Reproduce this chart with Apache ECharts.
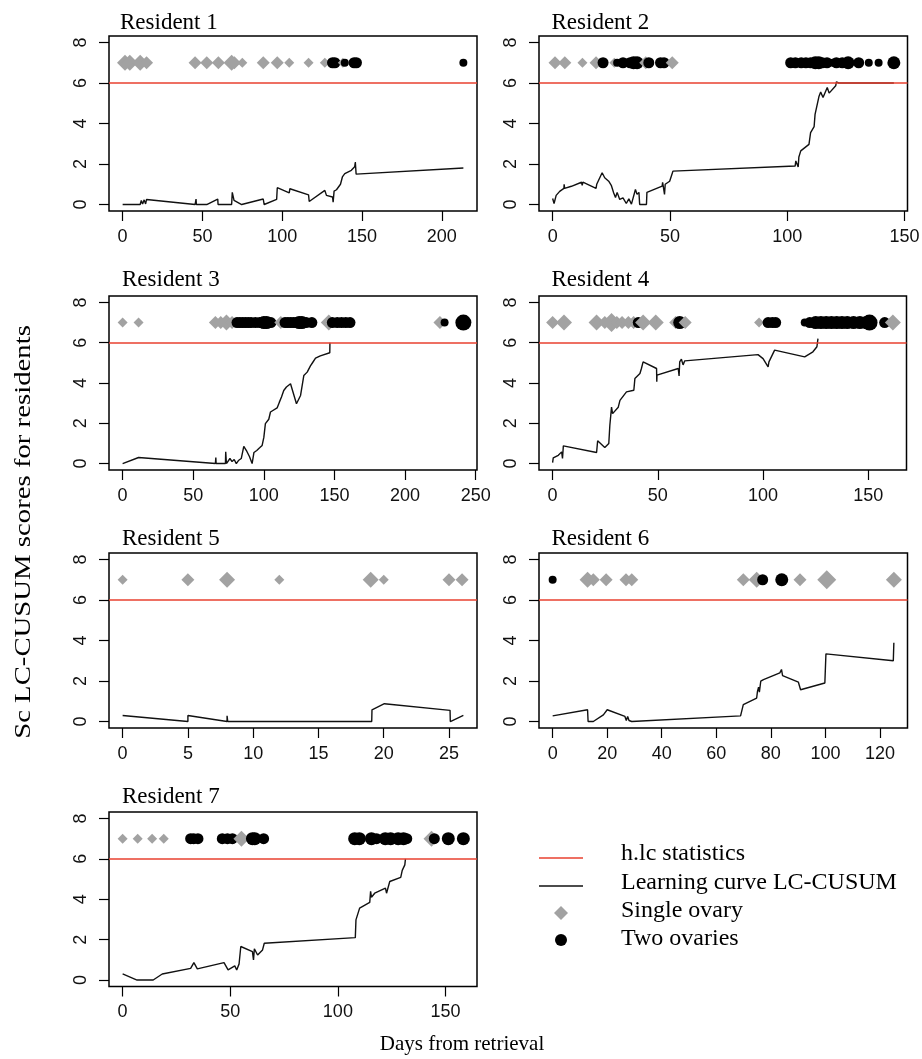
<!DOCTYPE html>
<html><head><meta charset="utf-8">
<script src="https://cdn.jsdelivr.net/npm/echarts@6/dist/echarts.min.js"></script>
<style>html,body{margin:0;padding:0;background:#fff}#c{width:922px;height:1059px}</style>
</head><body><div id="c"></div><script>
// ---------------- DATA ----------------
const residentNames = ['Resident 1','Resident 2','Resident 3','Resident 4','Resident 5','Resident 6','Resident 7'];
const H_LC = 6;          // h.lc threshold
const MARK_Y = 7;        // level where the case markers are drawn
const yTicks = [0, 2, 4, 6, 8];

// x tick labels per resident
const r1XTicks = [0, 50, 100, 150, 200];
const r2XTicks = [0, 50, 100, 150];
const r3XTicks = [0, 50, 100, 150, 200, 250];
const r4XTicks = [0, 50, 100, 150];
const r5XTicks = [0, 5, 10, 15, 20, 25];
const r6XTicks = [0, 20, 40, 60, 80, 100, 120];
const r7XTicks = [0, 50, 100, 150];

// LC-CUSUM curves [day, score]
const r1Curve = [[0,0],[11,0],[11.7,0.2],[12.5,0.02],[13.5,0.23],[14.4,0.03],[15,0.25],[45.4,0],[46,0.27],[46.2,0],[52.7,0],[59.6,0.27],[59.8,0],[68.3,0],[68.7,0.6],[69.8,0.2],[74.6,0],[88.1,0.27],[88.7,0],[96.5,0.25],[96.9,0.83],[104.4,0.58],[104.8,0.78],[116.5,0.48],[116.9,0.15],[126.7,0.7],[127.7,0.45],[131.5,0.37],[131.9,0.12],[132.5,0.66],[134,0.73],[136.5,1.0],[137.7,1.36],[139.2,1.53],[143.3,1.69],[145.4,1.86],[145.8,2.1],[146.3,1.5],[213.5,1.8]];
const r2Curve = [[0,0.3],[0.6,0.05],[1.5,0.45],[3,0.65],[4.8,0.8],[4.9,1.0],[5.1,0.8],[8,0.9],[12.3,1.1],[12.6,0.95],[12.9,1.1],[18.5,0.8],[18.8,1.0],[21.1,1.57],[22.2,1.32],[23.9,1.15],[25,0.95],[26,0.58],[26.8,0.35],[27.5,0.6],[28.6,0.25],[30,0.33],[31.4,0.05],[32.5,0.28],[33.6,0.02],[35.3,0.74],[36,0.5],[36.8,0.6],[37.1,0],[40,0],[40.2,0.6],[40.6,0.58],[46.7,0.91],[46.9,1.1],[47.7,0.5],[48,1.0],[49.9,1.15],[50.6,1.4],[51.3,1.65],[103.4,1.9],[103.7,2.15],[104.7,1.85],[105,2.35],[105.8,2.65],[109.3,2.97],[110,3.55],[111.5,3.85],[111.9,4.45],[113.6,5.35],[114.3,5.55],[115.3,5.28],[117.1,5.78],[117.9,5.5],[120.7,5.86],[121,6.05],[122,6.0],[145.5,6.0]];
const r3Curve = [[0,0],[11.3,0.3],[65.7,0],[66,0.3],[66.2,0],[72.8,0],[73,0.58],[73.5,0],[76,0.25],[77.5,0.1],[79,0.2],[80.5,0],[82,0.15],[84,0.25],[85.8,0.85],[88,0.6],[89.8,0.35],[91.7,0],[93,0.55],[95,0.65],[97,0.78],[98.8,0.9],[100,1.3],[101.1,1.98],[103.5,2.2],[104.7,2.56],[109.4,2.76],[111,3.05],[112.5,3.3],[114.1,3.63],[116,3.8],[118.9,3.96],[120,3.7],[123.1,2.97],[126,3.38],[128.3,4.37],[130.7,4.54],[133,4.85],[134.7,5.03],[136.6,5.23],[140,5.35],[146.7,5.5],[146.8,6.0]];
const r4Curve = [[0,0.05],[0.3,0.28],[2.7,0.41],[4.3,0.58],[4.7,0.25],[5.1,0.88],[20.9,0.55],[21.4,1.13],[24.8,0.8],[26.7,1.0],[27.2,1.9],[28,2.8],[28.5,2.48],[31.2,2.8],[32,3.14],[35.1,3.56],[38.6,3.64],[39.1,4.22],[41.5,4.47],[42.2,4.72],[43,5.05],[49.4,4.72],[49.5,4.06],[49.6,4.39],[59.7,4.72],[60.1,4.35],[60.4,5.05],[61.2,5.18],[62,4.9],[62.8,5.1],[97.6,5.41],[100,5.21],[102.4,4.8],[102.8,5.05],[105.5,5.63],[119.8,5.3],[123.7,5.55],[125.6,5.8],[126.1,6.2]];
const r5Curve = [[0,0.3],[5,0],[5,0.3],[8,0],[8,0.28],[8.05,0],[19.08,0],[19.1,0.58],[20.05,0.88],[25.08,0.55],[25.1,0],[26.1,0.3]];
const r6Curve = [[0,0.28],[12.8,0.58],[13,0],[14.9,0],[18.6,0.33],[20,0.58],[26.5,0.25],[27,0.05],[27.5,0.25],[28,0.05],[29,0],[68.9,0.28],[69.9,0.83],[74.8,1.16],[75.1,1.49],[75.5,1.7],[75.8,1.45],[76.3,1.99],[77.3,2.07],[83.3,2.4],[83.9,2.57],[84.3,2.27],[90.1,1.94],[90.9,1.57],[99.8,1.9],[100.2,3.34],[124.9,3.0],[125.1,3.89]];
const r7Curve = [[0,0.3],[6.7,0],[14.2,0],[18.4,0.3],[31.6,0.58],[33.1,0.86],[34.7,0.55],[47.1,0.86],[49,0.5],[52.1,0.7],[53,0.5],[54.1,0.8],[54.9,1.66],[60.3,1.41],[60.8,1.0],[61.2,1.55],[62.7,1.24],[65,1.49],[65.8,1.82],[108.1,2.1],[108.4,2.98],[110.1,3.56],[114.8,3.84],[115.2,4.39],[115.6,4.1],[117.1,4.3],[122.1,4.55],[122.6,4.3],[124.1,4.88],[129.2,5.08],[129.9,5.43],[131.1,5.7],[131.4,6.0]];

// cases: [day, number of cases that day]
const r1Single = [[1.5,3],[4.5,3],[11,3],[15,2],[45.4,2],[52.7,2],[60,2],[68.3,3],[70,2],[75,1],[88.1,2],[96.9,2],[104.4,1],[116.5,1],[126.7,1],[138,1]];
const r1Two    = [[131.5,2],[133,2],[139.2,1],[145,2],[146.5,2],[213.5,1]];
const r2Single = [[1,2],[5.2,2],[12.7,1],[18.5,2],[20.3,1],[26.3,1],[39.7,2],[51,2]];
const r2Two    = [[21.5,2],[27.5,1],[30,2],[33,2],[34.5,3],[36,3],[41,2],[46,2],[47.5,2],[101.5,2],[103.5,2],[106,2],[108,2],[110,2],[112,3],[113.5,3],[115,2],[117,2],[119.5,1],[121,2],[123.5,2],[126,3],[130.5,2],[134.8,1],[139,1],[145.5,3]];
const r3Single = [[0,1],[11.3,1],[65.7,2],[69.5,2],[73.5,3],[77.5,2],[112,2],[146,3],[224.7,2]];
const r3Two    = [[81,2],[83,2],[85,2],[87,2],[89,2],[91,2],[94,2],[97,2],[100,3],[102,3],[105,2],[115,2],[117,2],[119,2],[121,2],[123,2],[125,3],[127,3],[130,2],[134,2],[148.5,2],[152,2],[155,2],[158,2],[161,2],[228,1],[241.3,4]];
const r4Single = [[0,2],[5.4,3],[20.9,3],[24.8,2],[28,4],[30.5,2],[33,2],[36,2],[38.5,2],[43,3],[49,3],[58.5,2],[63,2],[98.1,1],[161.7,3]];
const r4Two    = [[40.7,2],[60.4,3],[102.4,2],[104.4,2],[106,2],[119.8,1],[122.2,2],[125,3],[127.5,3],[130,3],[132.5,3],[135,3],[137.5,3],[140,3],[143,3],[146,3],[149,3],[150.6,4],[157.8,2]];
const r5Single = [[0,1],[5,2],[8,3],[12,1],[19,3],[20,1],[25,2],[26,2]];
const r5Two    = [];
const r6Single = [[12.8,3],[14.9,2],[19.6,2],[26.9,2],[29,2],[69.9,2],[74.8,3],[90.7,2],[100.5,4],[125.1,3]];
const r6Two    = [[0,1],[77,2],[84,3]];
const r7Single = [[0,1],[7,1],[13.7,1],[19.1,1],[55.2,3],[143.5,3]];
const r7Two    = [[31.6,2],[33,2],[35,2],[46.3,2],[48.7,2],[51,2],[60.3,3],[61.4,3],[65.5,2],[107.8,3],[110,3],[115.6,3],[118,2],[122,3],[124.5,3],[128,3],[130.5,3],[132,2],[144.8,2],[151.3,3],[158.3,3]];

// ---------------- LAYOUT / STYLE ----------------
const curves = [r1Curve,r2Curve,r3Curve,r4Curve,r5Curve,r6Curve,r7Curve];
const singles = [r1Single,r2Single,r3Single,r4Single,r5Single,r6Single,r7Single];
const twos = [r1Two,r2Two,r3Two,r4Two,r5Two,r6Two,r7Two];
const xTicks = [r1XTicks,r2XTicks,r3XTicks,r4XTicks,r5XTicks,r6XTicks,r7XTicks];

const GRIDS = [
  [109, 36, 368, 175],
  [539, 36, 368.5, 175],
  [109, 296, 368, 174],
  [539, 296, 367.5, 174],
  [109, 553, 368, 175],
  [539, 553, 368.5, 175],
  [109, 812, 368, 174.5]
];
const TITLE_POS = [[120,11],[551.5,11],[122,268],[551.5,268],[122,527],[551.5,527],[122,785]];

const GRAY = '#a2a2a2';
const RED = '#e8402f';
const SERIF = '"Liberation Serif", "Times New Roman", serif';
const SANS = '"Liberation Sans", Arial, sans-serif';
const DIAMOND_SIZE = {1: 10, 2: 13, 3: 16, 4: 19};
const CIRCLE_SIZE = {1: 8, 2: 11, 3: 13, 4: 16};

function rRange(lo, hi) { const d = (hi - lo) * 0.04; return [lo - d, hi + d]; }

const grid = [], xAxis = [], yAxis = [], series = [], title = [];
const yR = rRange(Math.min(...yTicks), Math.max(...yTicks));

for (let i = 0; i < 7; i++) {
  const g = GRIDS[i];
  grid.push({left: g[0], top: g[1], width: g[2], height: g[3], show: true,
    borderColor: '#000', borderWidth: 1.5, backgroundColor: 'transparent',
    containLabel: false, outerBoundsMode: 'none'});
  title.push({text: residentNames[i], left: TITLE_POS[i][0], top: TITLE_POS[i][1], padding: 0,
    textStyle: {fontFamily: SERIF, fontSize: 23, fontWeight: 'normal', color: '#000'}});

  const allX = curves[i].map(p => p[0]).concat(singles[i].map(p => p[0]), twos[i].map(p => p[0]));
  const xR = rRange(Math.min(...allX), Math.max(...allX));

  xAxis.push({type: 'value', gridIndex: i, min: xR[0], max: xR[1], position: 'bottom',
    axisLine: {show: false, onZero: false}, splitLine: {show: false},
    axisTick: {show: true, inside: false, length: 10, customValues: xTicks[i], lineStyle: {color: '#000', width: 1.2}},
    axisLabel: {customValues: xTicks[i], margin: 17, fontSize: 18, fontFamily: SANS, color: '#111'}});
  yAxis.push({type: 'value', gridIndex: i, min: yR[0], max: yR[1], position: 'left',
    axisLine: {show: false, onZero: false}, splitLine: {show: false},
    axisTick: {show: true, inside: false, length: 10, customValues: yTicks, lineStyle: {color: '#000', width: 1.2}},
    axisLabel: {customValues: yTicks, rotate: 90, margin: 19, fontSize: 18, fontFamily: SANS, color: '#111'}});

  // markers: merged in time order so later cases overlay earlier ones
  const pts = singles[i].map(p => [p[0], MARK_Y, p[1], 0]).concat(twos[i].map(p => [p[0], MARK_Y, p[1], 1]));
  pts.sort((a, b) => a[0] - b[0]);
  series.push({type: 'scatter', xAxisIndex: i, yAxisIndex: i, data: pts, animation: false, silent: true,
    symbol: v => v[3] ? 'circle' : 'diamond',
    symbolSize: v => v[3] ? CIRCLE_SIZE[v[2]] : DIAMOND_SIZE[v[2]],
    itemStyle: {color: p => p.data[3] ? '#000' : GRAY, opacity: 1}});

  series.push({type: 'line', xAxisIndex: i, yAxisIndex: i, data: curves[i], showSymbol: false,
    animation: false, silent: true, lineStyle: {color: '#111', width: 1.4},
    markLine: {silent: true, symbol: ['none', 'none'], animation: false,
      label: {show: false}, lineStyle: {color: RED, width: 1.6, type: 'solid'},
      data: [{yAxis: H_LC}]}});
}

const LX = 621;
const graphic = [
  {type: 'text', x: 24, y: 532, rotation: Math.PI / 2, scaleX: 1.25,
    style: {text: 'Sc LC-CUSUM scores for residents', font: '23px ' + SERIF, fill: '#000', align: 'center', verticalAlign: 'middle'}},
  {type: 'text', x: 462, y: 1044,
    style: {text: 'Days from retrieval', font: '21px ' + SERIF, fill: '#000', align: 'center', verticalAlign: 'middle'}},
  {type: 'line', shape: {x1: 539, y1: 858, x2: 583, y2: 858}, style: {stroke: RED, lineWidth: 1.5}},
  {type: 'line', shape: {x1: 539, y1: 886, x2: 583, y2: 886}, style: {stroke: '#111', lineWidth: 1.6}},
  {type: 'polygon', shape: {points: [[561, 906], [568, 913], [561, 920], [554, 913]]}, style: {fill: GRAY}},
  {type: 'circle', shape: {cx: 561, cy: 940, r: 6}, style: {fill: '#000'}},
  {type: 'text', x: LX, y: 854, style: {text: 'h.lc statistics', font: '24px ' + SERIF, fill: '#000', align: 'left', verticalAlign: 'middle'}},
  {type: 'text', x: LX, y: 883, style: {text: 'Learning curve LC-CUSUM', font: '24px ' + SERIF, fill: '#000', align: 'left', verticalAlign: 'middle'}},
  {type: 'text', x: LX, y: 911, style: {text: 'Single ovary', font: '24px ' + SERIF, fill: '#000', align: 'left', verticalAlign: 'middle'}},
  {type: 'text', x: LX, y: 939, style: {text: 'Two ovaries', font: '24px ' + SERIF, fill: '#000', align: 'left', verticalAlign: 'middle'}}
];

const chart = echarts.init(document.getElementById('c'), null, {renderer: 'canvas'});
chart.setOption({backgroundColor: '#fff', animation: false, title, grid, xAxis, yAxis, series, graphic});
</script></body></html>
